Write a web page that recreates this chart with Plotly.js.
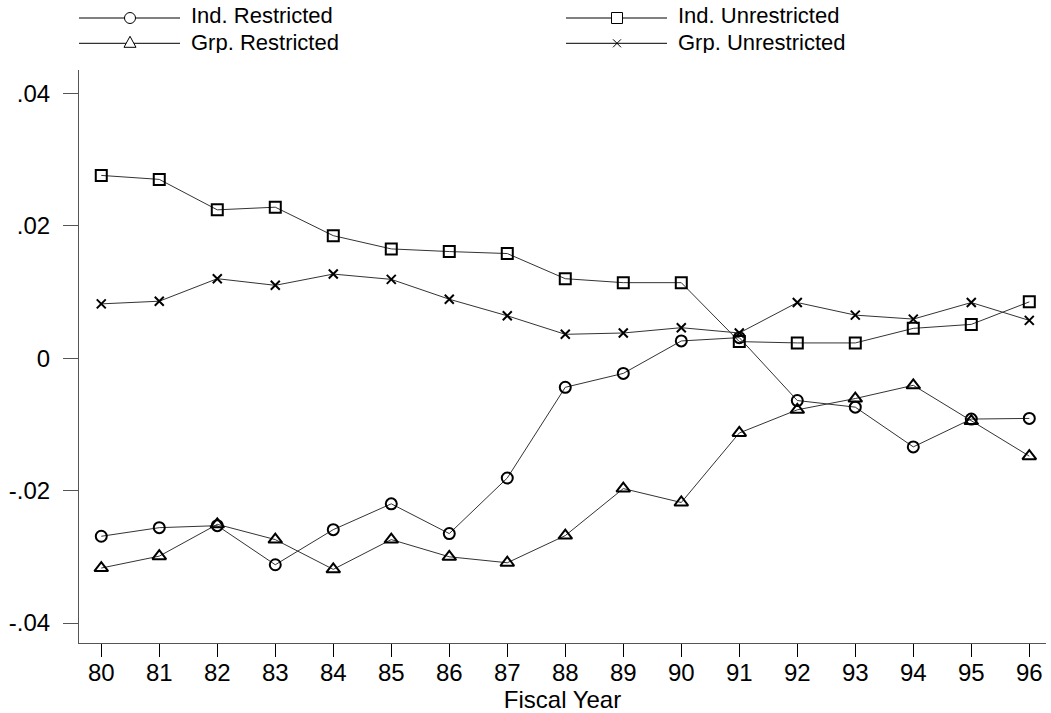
<!DOCTYPE html>
<html>
<head>
<meta charset="utf-8">
<script src="https://cdn.plot.ly/plotly-3.0.1.min.js"></script>
<style>html,body{margin:0;padding:0;background:#fff;}#chart{width:1051px;height:713px;}</style>
</head>
<body>
<div id="chart"></div>
<script>
const years = [80,81,82,83,84,85,86,87,88,89,90,91,92,93,94,95,96];
const yearLabels = ["80","81","82","83","84","85","86","87","88","89","90","91","92","93","94","95","96"];
const indRestricted = [-0.0269,-0.0256,-0.0253,-0.0312,-0.0259,-0.0220,-0.0265,-0.0181,-0.0044,-0.0023,0.0026,0.0031,-0.0064,-0.0074,-0.0134,-0.0092,-0.0091];
const indUnrestricted = [0.0276,0.0270,0.0224,0.0228,0.0185,0.0165,0.0161,0.0158,0.0120,0.0114,0.0114,0.0025,0.0023,0.0023,0.0045,0.0051,0.0085];
const grpRestricted = [-0.0317,-0.0299,-0.0251,-0.0274,-0.0319,-0.0274,-0.0300,-0.0309,-0.0268,-0.0197,-0.0218,-0.0113,-0.0078,-0.0061,-0.0041,-0.0095,-0.0148];
const grpUnrestricted = [0.0082,0.0086,0.0120,0.0110,0.0127,0.0119,0.0089,0.0064,0.0036,0.0038,0.0046,0.0038,0.0084,0.0065,0.0059,0.0084,0.0057];
const seriesNames = ["Ind. Restricted","Ind. Unrestricted","Grp. Restricted","Grp. Unrestricted"];
const yTickVals = [-0.04,-0.02,0,0.02,0.04];
const yTickText = ["-.04","-.02","0",".02",".04"];

const W = 1051, H = 713;
const M = {l:79, r:5, t:70, b:70};
const FONT = "Liberation Sans, Arial, Helvetica, sans-serif";

function mk(y, name, symbol, size, lw){
  return {
    x: years, y: y, name: name, type: "scatter", mode: "lines+markers",
    line: {color: "#333333", width: 1},
    marker: {symbol: symbol, size: size, color: "#000000", line: {color: "#000000", width: lw}},
    showlegend: false, hoverinfo: "x+y+name"
  };
}
const traces = [
  mk(indRestricted, seriesNames[0], "circle-open", 11, 2),
  mk(indUnrestricted, seriesNames[1], "square-open", 11, 2),
  mk(grpRestricted, seriesNames[2], "triangle-up-open", 12, 2),
  mk(grpUnrestricted, seriesNames[3], "x-thin-open", 9, 2)
];

// custom legend (layout decorations) in pixel -> paper coordinates
const pw = W - M.l - M.r, ph = H - M.t - M.b;
const px = v => (v - M.l) / pw;
const py = v => (H - M.b - v) / ph;
const shapes = [];
const annotations = [];
function legendItem(x0, x1, mx, ly, ty, kind, label){
  shapes.push({type:"line", xref:"paper", yref:"paper", x0:px(x0), x1:px(x1), y0:py(ly), y1:py(ly), line:{color:"#000", width:1}});
  const r = 5.5;
  const st = {xref:"paper", yref:"paper", line:{color:"#000", width:1}, fillcolor:"rgba(255,255,255,1)"};
  if (kind === "circle") shapes.push(Object.assign({type:"circle", x0:px(mx-r), x1:px(mx+r), y0:py(ly-r), y1:py(ly+r)}, st));
  if (kind === "square") shapes.push(Object.assign({type:"rect", x0:px(mx-r), x1:px(mx+r), y0:py(ly-r), y1:py(ly+r)}, st));
  if (kind === "triangle") shapes.push(Object.assign({type:"path", path:`M ${px(mx)} ${py(ly-7)} L ${px(mx+6)} ${py(ly+4)} L ${px(mx-6)} ${py(ly+4)} Z`}, st));
  if (kind === "x") {
    shapes.push({type:"path", xref:"paper", yref:"paper", path:`M ${px(mx-4)} ${py(ly-4)} L ${px(mx+4)} ${py(ly+4)} M ${px(mx-4)} ${py(ly+4)} L ${px(mx+4)} ${py(ly-4)}`, line:{color:"#000", width:1}});
  }
  annotations.push({xref:"paper", yref:"paper", x:px(x1 + 10), y:py(ty), xanchor:"left", yanchor:"middle",
    height:22, borderpad:0, text:label, showarrow:false, font:{family:FONT, size:22, color:"#000"}});
}
legendItem(79, 180, 130, 18, 15.5, "circle", seriesNames[0]);
legendItem(566, 667, 617, 18, 15.5, "square", seriesNames[1]);
legendItem(79, 180, 130, 43.3, 42.5, "triangle", seriesNames[2]);
legendItem(566, 667, 617, 43.3, 42.5, "x", seriesNames[3]);

const layout = {
  width: W, height: H,
  margin: M,
  paper_bgcolor: "#ffffff", plot_bgcolor: "#ffffff",
  font: {family: FONT, size: 24, color: "#000"},
  showlegend: false,
  xaxis: {
    range: [79.616, 96.288],
    tickmode: "array", tickvals: years, ticktext: yearLabels,
    ticks: "outside", ticklen: 13, tickwidth: 1, tickcolor: "#000",
    ticklabelstandoff: -5,
    showline: true, linecolor: "#555555", linewidth: 1,
    showgrid: false, zeroline: false,
    tickfont: {family: FONT, size: 24, color: "#000"},
    title: {text: "Fiscal Year", font: {family: FONT, size: 24, color: "#000"}, standoff: 0}
  },
  yaxis: {
    range: [-0.04302, 0.04352],
    tickmode: "array", tickvals: yTickVals, ticktext: yTickText,
    ticks: "outside", ticklen: 15, tickwidth: 1, tickcolor: "#555555",
    showline: true, linecolor: "#555555", linewidth: 1,
    showgrid: false, zeroline: false,
    ticklabelstandoff: 8,
    tickfont: {family: FONT, size: 24, color: "#000"}
  },
  shapes: shapes,
  annotations: annotations
};

Plotly.newPlot("chart", traces, layout, {displayModeBar: false, staticPlot: true});
</script>
</body>
</html>
